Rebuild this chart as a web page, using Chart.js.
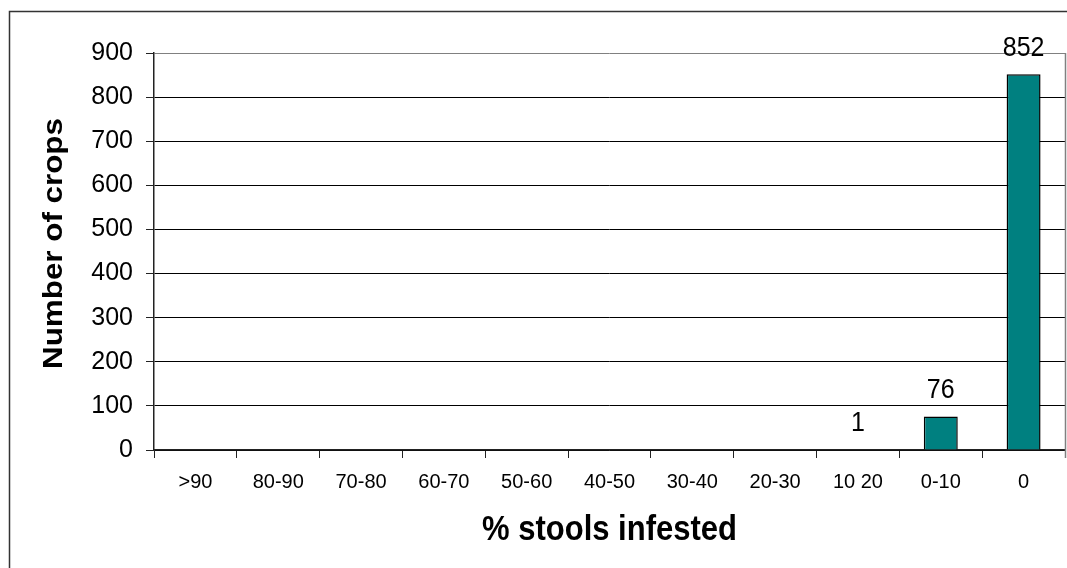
<!DOCTYPE html>
<html>
<head>
<meta charset="utf-8">
<script src="https://cdn.jsdelivr.net/npm/chart.js@4/dist/chart.umd.min.js"></script>
<style>
  html, body { margin: 0; padding: 0; background: #fff; }
  #wrap { width: 1067px; height: 568px; position: relative; }
</style>
</head>
<body>
<div id="wrap"><canvas id="c" width="1067" height="568"></canvas></div>
<script>
// Infestation classes (% of stools infested) and the number of crops in each
const categories = ['>90', '80-90', '70-80', '60-70', '50-60', '40-50', '30-40', '20-30', '10 20', '0-10', '0'];
const crops = [0, 0, 0, 0, 0, 0, 0, 0, 1, 76, 852];
const yTicks = [0, 100, 200, 300, 400, 500, 600, 700, 800, 900];

const FONT = '"Liberation Sans", Arial, sans-serif';
const TALL = 1.12; // slightly tall lettering for titles and value labels

// Draw text centred at (x, y), stretched vertically on the page
function tallText(ctx, text, x, y, rotate) {
  ctx.save();
  ctx.translate(x, y);
  ctx.scale(1, TALL);
  if (rotate) ctx.rotate(-Math.PI / 2);
  ctx.fillText(text, 0, 0);
  ctx.restore();
}

// Outer frame, axis titles, right border of the plot and value labels
const decorations = {
  id: 'decorations',
  beforeDraw(chart) {
    const ctx = chart.ctx;
    ctx.save();
    ctx.strokeStyle = '#333';
    ctx.lineWidth = 1.5;
    ctx.beginPath();
    ctx.moveTo(9.5, 568);
    ctx.lineTo(9.5, 11.5);
    ctx.lineTo(1067, 11.5);
    ctx.stroke();
    ctx.restore();
  },
  afterDraw(chart) {
    const ctx = chart.ctx;
    const a = chart.chartArea;
    ctx.save();
    // right edge of the plot area
    ctx.strokeStyle = '#808080';
    ctx.lineWidth = 1.5;
    ctx.beginPath();
    ctx.moveTo(a.right + 0.5, a.top);
    ctx.lineTo(a.right + 0.5, a.bottom + 8);
    ctx.stroke();

    // axis titles
    ctx.fillStyle = '#000';
    ctx.textAlign = 'center';
    ctx.textBaseline = 'middle';
    ctx.font = 'bold 31px ' + FONT;
    tallText(ctx, '% stools infested', (a.left + a.right) / 2, 530, false);
    ctx.font = 'bold 28px ' + FONT;
    tallText(ctx, 'Number of crops', 54, (a.top + a.bottom) / 2 - 8, true);

    // value labels above the bars
    ctx.font = '25px ' + FONT;
    const meta = chart.getDatasetMeta(0);
    meta.data.forEach((bar, i) => {
      const v = crops[i];
      if (v > 0) {
        tallText(ctx, String(v), bar.x, bar.y - 26, false);
      }
    });
    ctx.restore();
  }
};

new Chart(document.getElementById('c'), {
  type: 'bar',
  data: {
    labels: categories,
    datasets: [{
      data: crops,
      backgroundColor: '#008080',
      borderColor: '#000',
      borderWidth: 1.5,
      categoryPercentage: 1,
      barPercentage: 0.41
    }]
  },
  options: {
    responsive: false,
    animation: false,
    devicePixelRatio: 1,
    layout: { padding: { left: 0, top: 53, right: 2, bottom: 0 } },
    plugins: {
      legend: { display: false },
      tooltip: { enabled: false }
    },
    scales: {
      x: {
        afterFit(scale) { scale.height = 118; },
        grid: {
          display: true,
          offset: true,
          drawOnChartArea: false,
          drawTicks: true,
          tickLength: 8,
          color: '#222',
          lineWidth: 1
        },
        border: { display: true, color: '#222', width: 1.5 },
        ticks: {
          color: '#000',
          font: { family: FONT, size: 20 },
          padding: 12,
          maxRotation: 0,
          autoSkip: false
        }
      },
      y: {
        min: 0,
        max: 900,
        afterFit(scale) { scale.width = 154; },
        afterBuildTicks(scale) { scale.ticks = yTicks.map(v => ({ value: v })); },
        grid: {
          color: ctx => (ctx.tick && ctx.tick.value === 900 ? '#808080' : '#000'),
          lineWidth: 1,
          drawTicks: true,
          tickLength: 8,
          tickColor: '#222'
        },
        border: { display: true, color: '#222', width: 1.5 },
        ticks: {
          color: '#000',
          font: { family: FONT, size: 25 },
          padding: 13
        }
      }
    }
  },
  plugins: [decorations]
});
</script>
</body>
</html>
